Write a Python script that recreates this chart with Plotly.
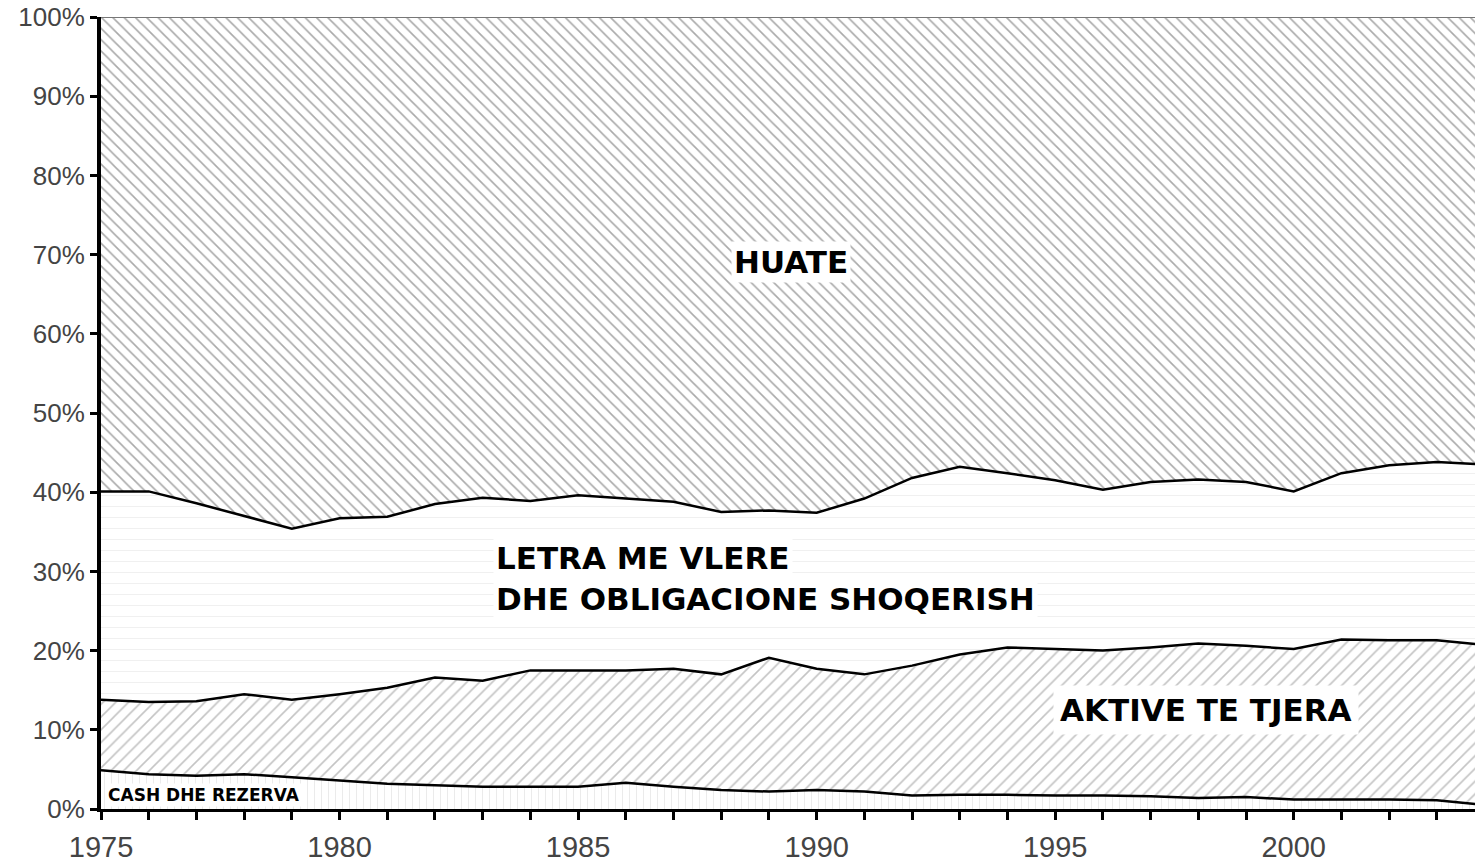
import plotly.graph_objects as go

years = list(range(1975, 2005))
# component shares (% of total assets), stacked bottom -> top
cash_reserves = [4.9, 4.4, 4.2, 4.4, 4.0, 3.6, 3.2, 3.0, 2.8, 2.8, 2.8, 3.3, 2.8, 2.4, 2.2,
                 2.4, 2.2, 1.7, 1.8, 1.8, 1.7, 1.7, 1.6, 1.4, 1.5, 1.2, 1.2, 1.2, 1.1, 0.5]
other_assets = [8.9, 9.1, 9.4, 10.1, 9.8, 10.9, 12.1, 13.6, 13.4, 14.7, 14.7, 14.2, 14.9, 14.6, 16.9,
                15.3, 14.8, 16.4, 17.7, 18.6, 18.5, 18.3, 18.8, 19.5, 19.1, 19.0, 20.2, 20.1, 20.2, 20.2]
securities = [26.3, 26.6, 25.0, 22.5, 21.6, 22.2, 21.6, 21.9, 23.1, 21.4, 22.1, 21.7, 21.1, 20.5, 18.6,
              19.7, 22.2, 23.7, 23.7, 22.0, 21.3, 20.3, 20.9, 20.7, 20.7, 19.9, 21.0, 22.1, 22.5, 22.8]
loans = [59.9, 59.9, 61.4, 63.0, 64.6, 63.3, 63.1, 61.5, 60.7, 61.1, 60.4, 60.8, 61.2, 62.5, 62.3,
         62.6, 60.8, 58.2, 56.8, 57.6, 58.5, 59.7, 58.7, 58.4, 58.7, 59.9, 57.6, 56.6, 56.2, 56.5]

layer_names = ["CASH DHE REZERVA", "AKTIVE TE TJERA",
               "LETRA ME VLERE DHE OBLIGACIONE SHOQERISH", "HUATE"]
x_ticks = [1975, 1980, 1985, 1990, 1995, 2000]
y_ticks = list(range(0, 101, 10))
y_tick_labels = [f"{v}%" for v in y_ticks]

fig = go.Figure()
layers = [cash_reserves, other_assets, securities, loans]
patterns = [
    dict(shape="|", fgcolor="#d8d8d8", bgcolor="white", size=7, solidity=0.15),
    dict(shape="/", fgcolor="#8a8a8a", bgcolor="white", size=9, solidity=0.18),
    dict(shape="-", fgcolor="#e2e2e2", bgcolor="white", size=11, solidity=0.1),
    dict(shape="\\", fgcolor="#555555", bgcolor="white", size=8, solidity=0.2),
]
line_styles = [dict(color="black", width=2.5), dict(color="black", width=2.5),
               dict(color="black", width=2.5), dict(color="#777777", width=2)]
for name, vals, pat, ln in zip(layer_names, layers, patterns, line_styles):
    fig.add_trace(go.Scatter(x=years, y=vals, name=name, mode="lines", stackgroup="s",
                             line=ln, fillpattern=pat, fillcolor="white", showlegend=False))

label_font = dict(family="DejaVu Sans", size=31, color="black")
fig.add_annotation(x=1988.2, y=69.1, text="<b>HUATE</b>", showarrow=False, xanchor="left",
                   font=label_font, bgcolor="white", borderpad=2)
fig.add_annotation(x=1983.21, y=31.7, text="<b>LETRA ME VLERE</b>", showarrow=False, xanchor="left",
                   font=label_font, bgcolor="white", borderpad=2)
fig.add_annotation(x=1983.21, y=26.5, text="<b>DHE OBLIGACIONE SHOQERISH</b>", showarrow=False,
                   xanchor="left", font=label_font, bgcolor="white", borderpad=2)
fig.add_annotation(x=1994.96, y=12.45, text="<b>AKTIVE TE TJERA</b>", showarrow=False, xanchor="left",
                   font=label_font, bgcolor="white", borderpad=6)
fig.add_annotation(x=1975.1, y=1.8, text="<b>CASH DHE REZERVA</b>", showarrow=False, xanchor="left",
                   font=dict(family="DejaVu Sans", size=17, color="black"), bgcolor="white", borderpad=1)

fig.update_layout(
    width=1475, height=863,
    margin=dict(l=101, r=0, t=17, b=51),
    paper_bgcolor="white", plot_bgcolor="white",
    showlegend=False,
    xaxis=dict(range=[1975, 2003.8], tickvals=x_ticks, ticks="outside", ticklen=8, tickwidth=2.5,
               tickcolor="black", minor=dict(dtick=1, ticks="outside", ticklen=8, tickwidth=2.5,
                                             tickcolor="black", showgrid=False),
               showline=True, linewidth=3, linecolor="black", showgrid=False, zeroline=False,
               tickfont=dict(family="Liberation Sans", size=29, color="#444444"),
               ticklabelstandoff=2),
    yaxis=dict(range=[0, 100], tickvals=y_ticks, ticktext=y_tick_labels, ticks="outside", ticklen=7,
               tickwidth=2.5, tickcolor="black", showline=True, linewidth=4, linecolor="black",
               showgrid=False, zeroline=False,
               tickfont=dict(family="Liberation Sans", size=26, color="#444444")),
)

fig.write_html("out.html", config={"displayModeBar": False},
               post_script="document.body.style.margin='0';document.body.style.overflow='hidden';")
